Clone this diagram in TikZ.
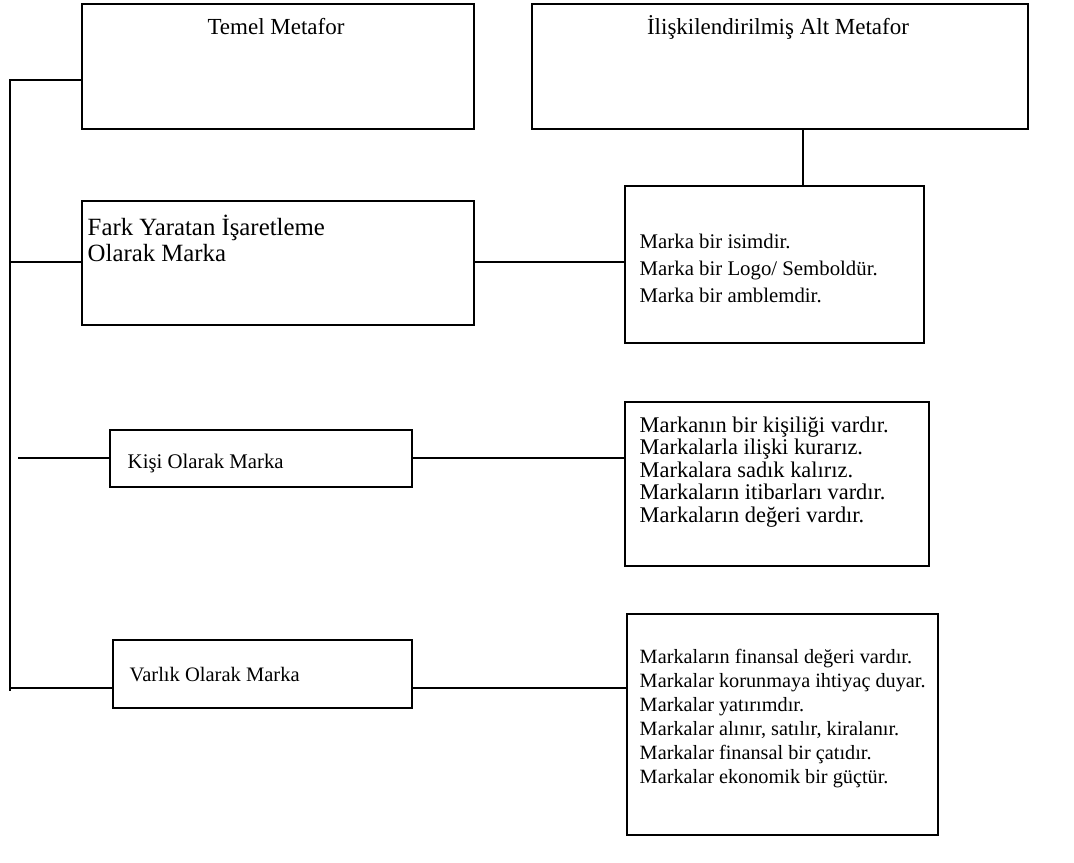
\documentclass[tikz,border=0pt]{standalone}
\usepackage{fontspec}
\setmainfont{Liberation Serif}
\begin{document}
\begin{tikzpicture}[x=0.75pt, y=-0.75pt, line width=1.1pt,
  box/.style={draw, rectangle, inner sep=0pt, outer sep=0pt},
  txt/.style={inner sep=0pt, align=left, anchor=west}]
\useasboundingbox (0,0) rectangle (1074,863);
\node[box, minimum width=294pt, minimum height=93.75pt] (temel) at (278,66.5){};
\node[inner sep=0pt, font=\fontsize{17.25}{17.25}\selectfont] (temelt) at (276,27){Temel Metafor};
\node[box, minimum width=372pt, minimum height=93.75pt] (alt) at (780,66.5){};
\node[inner sep=0pt, font=\fontsize{17.25}{17.25}\selectfont] (altt) at (778,27){İlişkilendirilmiş Alt Metafor};
\node[box, minimum width=294pt, minimum height=93pt] (fark) at (278,263){};
\node[txt, font=\fontsize{18.6}{19.2}\selectfont] (farkt) at (87,238.5){Fark Yaratan İşaretleme\\Olarak Marka};
\node[box, minimum width=224.25pt, minimum height=117.75pt] (isim) at (774.5,264.5){};
\node[txt, font=\fontsize{15.6}{20.25}\selectfont] (isimt) at (639,268){Marka bir isimdir.\\Marka bir Logo/ Semboldür.\\Marka bir amblemdir.};
\node[box, minimum width=226.5pt, minimum height=42.75pt] (kisi) at (261,458.5){};
\node[txt, font=\fontsize{15.6}{15.6}\selectfont] (kisit) at (127,463){Kişi Olarak Marka};
\node[box, minimum width=228pt, minimum height=123pt] (kisilik) at (777,484){};
\node[txt, font=\fontsize{16.8}{16.9}\selectfont] (kisilikt) at (639,472){Markanın bir kişiliği vardır.\\Markalarla ilişki kurarız.\\Markalara sadık kalırız.\\Markaların itibarları vardır.\\Markaların değeri vardır.};
\node[box, minimum width=224.25pt, minimum height=51pt] (varlik) at (262.5,674){};
\node[txt, font=\fontsize{15.4}{15.4}\selectfont] (varlikt) at (129,675){Varlık Olarak Marka};
\node[box, minimum width=233.25pt, minimum height=165.75pt] (finans) at (782.5,724.5){};
\node[txt, font=\fontsize{15.2}{18}\selectfont] (finanst) at (639,719){Markaların finansal değeri vardır.\\Markalar korunmaya ihtiyaç duyar.\\Markalar yatırımdır.\\Markalar alınır, satılır, kiralanır.\\Markalar finansal bir çatıdır.\\Markalar ekonomik bir güçtür.};
% left trunk
\coordinate (top) at (10,80);
\coordinate (bot) at (10,691);
\coordinate (j1) at (10,262);
\coordinate (j2) at (18,458);
\coordinate (j3) at (10,688);
\coordinate (j0) at (803,129);
\draw (temel.west |- top) -- (top) -- (bot);
\draw (j1) -- (j1 -| fark.west);
\draw (fark.east |- j1) -- (j1 -| isim.west);
\draw (alt.south -| j0) -- (isim.north -| j0);
\draw (j2) -- (j2 -| kisi.west);
\draw (kisi.east |- j2) -- (j2 -| kisilik.west);
\draw (j3) -- (j3 -| varlik.west);
\draw (varlik.east |- j3) -- (j3 -| finans.west);
\end{tikzpicture}
\end{document}
